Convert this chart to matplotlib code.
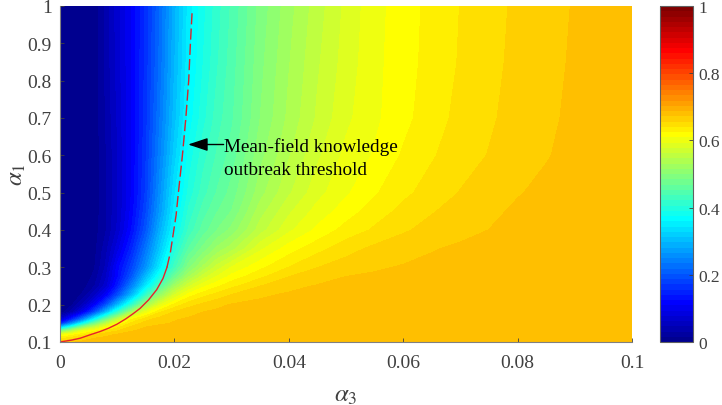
import numpy as np
import matplotlib
matplotlib.use('Agg')
import matplotlib.pyplot as plt
from matplotlib.colors import ListedColormap

alpha3 = [0, .002, .004, .006, .008, .01, .0125, .015, .0175, .02, .0225, .025, .0275,
          .03, .035, .04, .045, .05, .055, .06, .065, .07, .075, .08, .085, .09, .095, .1]
alpha1 = [.1, .11, .12, .13, .14, .15, .16, .18, .2, .225, .25, .275, .3, .35, .4, .45, .5, .6, .7, .85, 1]

# final size, one row per alpha1
final_size = [
    [.665, .67, .675, .677, .678, .679, .68, .68, .68, .68, .68, .68, .68, .68, .68, .68, .68, .68, .681, .681, .681, .682, .682, .682, .682, .682, .683, .683],
    [.635, .65, .665, .672, .675, .677, .679, .68, .68, .68, .68, .68, .68, .68, .68, .68, .68, .68, .681, .681, .681, .682, .682, .682, .682, .682, .683, .683],
    [.60, .615, .635, .655, .668, .673, .677, .678, .679, .68, .68, .68, .68, .68, .68, .68, .68, .68, .681, .681, .681, .682, .682, .682, .682, .682, .683, .683],
    [.47, .54, .595, .62, .64, .655, .671, .675, .677, .678, .678, .679, .679, .68, .68, .68, .68, .68, .681, .681, .681, .682, .682, .682, .682, .682, .683, .683],
    [.30, .40, .50, .56, .605, .635, .66, .672, .675, .676, .677, .677, .678, .679, .679, .68, .68, .68, .681, .681, .681, .682, .682, .682, .682, .682, .683, .683],
    [.14, .25, .37, .47, .55, .605, .645, .663, .67, .673, .675, .676, .677, .678, .679, .68, .68, .68, .681, .681, .681, .682, .682, .682, .682, .682, .683, .683],
    [.07, .15, .25, .37, .48, .56, .625, .652, .665, .671, .674, .675, .676, .677, .678, .679, .68, .68, .681, .681, .681, .682, .682, .682, .682, .682, .683, .683],
    [.002, .04, .10, .19, .30, .41, .53, .60, .64, .658, .667, .672, .675, .676, .677, .678, .679, .68, .68, .681, .681, .682, .682, .682, .682, .682, .683, .683],
    [0, .012, .05, .11, .19, .29, .41, .52, .59, .63, .65, .66, .668, .673, .675, .676, .677, .678, .679, .68, .681, .681, .682, .682, .682, .682, .683, .683],
    [0, .003, .02, .06, .11, .19, .30, .42, .515, .58, .618, .636, .648, .658, .67, .674, .676, .677, .678, .679, .68, .681, .681, .682, .682, .682, .683, .683],
    [0, .001, .008, .03, .07, .14, .24, .345, .445, .525, .575, .605, .622, .636, .656, .668, .673, .675, .677, .678, .679, .68, .681, .681, .682, .682, .683, .683],
    [0, 0, .004, .02, .06, .12, .20, .30, .39, .47, .53, .57, .595, .615, .637, .656, .665, .672, .674, .675, .677, .678, .679, .68, .681, .682, .682, .683],
    [0, 0, .002, .014, .05, .115, .18, .26, .35, .43, .495, .535, .57, .595, .621, .641, .656, .664, .67, .673, .675, .677, .678, .679, .68, .681, .682, .683],
    [0, 0, 0, .01, .04, .085, .15, .23, .315, .395, .455, .49, .52, .54, .59, .617, .635, .65, .66, .666, .671, .674, .676, .678, .68, .681, .682, .683],
    [0, 0, 0, .008, .03, .065, .125, .20, .29, .365, .425, .46, .485, .505, .555, .59, .613, .631, .643, .654, .662, .668, .672, .675, .678, .68, .682, .683],
    [0, 0, 0, .005, .03, .06, .115, .185, .27, .35, .41, .445, .468, .485, .54, .575, .60, .617, .633, .645, .655, .663, .669, .674, .677, .68, .682, .683],
    [0, 0, 0, .005, .03, .06, .11, .175, .26, .34, .395, .43, .455, .475, .525, .56, .588, .607, .623, .637, .647, .657, .665, .671, .675, .678, .681, .683],
    [0, 0, 0, .005, .03, .06, .11, .17, .245, .32, .38, .415, .44, .46, .51, .545, .575, .598, .611, .627, .639, .649, .657, .664, .671, .676, .68, .682],
    [0, 0, 0, .005, .032, .064, .11, .165, .235, .305, .365, .40, .43, .45, .50, .535, .565, .59, .606, .62, .634, .645, .654, .662, .669, .675, .679, .682],
    [0, 0, 0, .005, .035, .068, .11, .162, .225, .295, .355, .39, .42, .445, .495, .53, .56, .585, .605, .618, .631, .642, .652, .66, .667, .674, .679, .682],
    [0, 0, 0, .005, .035, .07, .11, .16, .22, .29, .35, .385, .415, .44, .49, .525, .555, .582, .604, .617, .63, .641, .651, .659, .666, .673, .678, .682],
]

# mean-field threshold curve, solid low part then dashed
thr_a3 = [0, .002, .0035, .0052, .007, .0085, .01, .0115, .0128, .014, .0155, .0169, .018, .0187]
thr_a1 = [.1, .105, .11, .119, .128, .137, .148, .162, .176, .19, .213, .24, .27, .30]
thr_a3_dash = [.0187, .0193, .0198, .0203, .0207, .0214, .022, .0225, .0228, .0231]
thr_a1_dash = [.30, .34, .39, .44, .5, .6, .7, .8, .9, .985]

plt.rcParams['font.family'] = ['Liberation Serif']
plt.rcParams['mathtext.fontset'] = 'stix'
grey = '#404040'

# same 64 steps as the MATLAB jet map
x = np.arange(1, 65) / 64
jet64 = ListedColormap(np.clip(np.column_stack([
    np.minimum(4*x - 1.5, -4*x + 4.5),
    np.minimum(4*x - 0.5, -4*x + 3.5),
    np.minimum(4*x + 0.5, -4*x + 2.5)]), 0, 1))

fig = plt.figure(figsize=(7.22, 4.06), dpi=100)
ax = fig.add_axes([60/722, 63/406, 572/722, 336/406])
cf = ax.contourf(alpha3, alpha1, final_size, levels=np.linspace(0, 1, 65),
                 cmap=jet64, vmin=0, vmax=1, antialiased=False)
ax.plot(thr_a3, thr_a1, '-', color='#e8202a', lw=1)
ax.plot(thr_a3_dash, thr_a1_dash, '--', color='#d8242c', lw=1, dashes=(8, 3))
ax.axis([0, 0.1, 0.1, 1])
ax.set_xticks([0, .02, .04, .06, .08, .1])
ax.set_xticklabels(['0', '0.02', '0.04', '0.06', '0.08', '0.1'])
ax.set_yticks(np.arange(1, 11) / 10)
ax.set_yticklabels(['0.1', '0.2', '0.3', '0.4', '0.5', '0.6', '0.7', '0.8', '0.9', '1'])
ax.tick_params(axis='x', direction='in', length=3, width=0.6, labelsize=14, colors=grey, pad=9)
ax.tick_params(axis='y', direction='in', length=3, width=0.6, labelsize=14, colors=grey, pad=6)
ax.spines['top'].set_visible(False)
ax.spines['right'].set_visible(False)
ax.spines['left'].set_color('#808080')
ax.spines['bottom'].set_color('#808080')
ax.set_xlabel(r'$\alpha_3$', fontsize=18, color=grey, labelpad=9)
ax.set_ylabel(r'$\alpha_1$', fontsize=18, color=grey)
ax.yaxis.set_label_coords(-0.056, 0.5)

ax.annotate('', xy=(.0224, .629), xytext=(.0286, .629),
            arrowprops=dict(arrowstyle='-|>,head_length=1.2,head_width=0.4', color='k', lw=1,
                            shrinkA=0, shrinkB=0))
ax.text(.0287, .624, 'Mean-field knowledge', fontsize=13.8, color='k', va='center')
ax.text(.0287, .562, 'outbreak threshold', fontsize=13.8, color='k', va='center')

cax = fig.add_axes([659.5/722, 63/406, 33/722, 336/406])
cb = fig.colorbar(cf, cax=cax, ticks=[0, .2, .4, .6, .8, 1])
cb.ax.set_yticklabels(['0', '0.2', '0.4', '0.6', '0.8', '1'])
cb.ax.tick_params(direction='in', length=3, width=0.6, labelsize=12.5, colors=grey, pad=4)
cb.outline.set_edgecolor('#606060')

fig.savefig('out.png', dpi=100)
